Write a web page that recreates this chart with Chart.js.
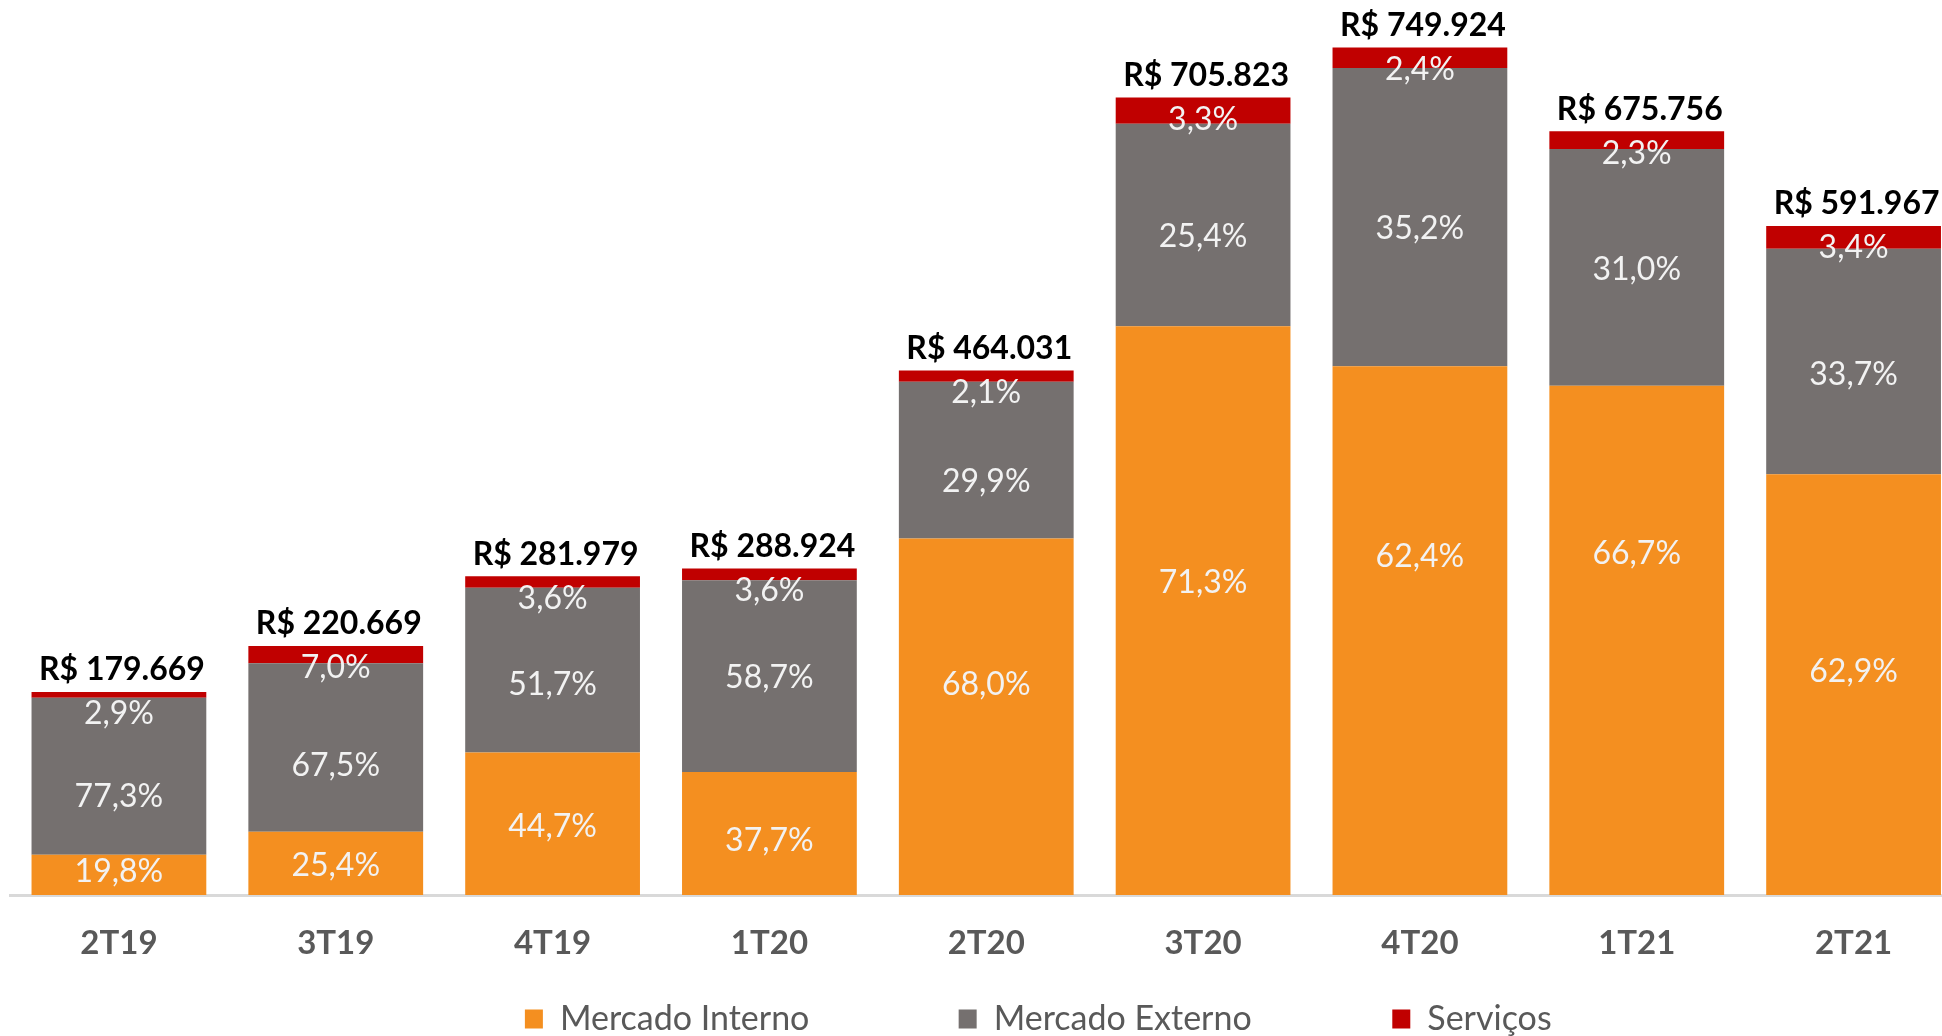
<!DOCTYPE html>
<html>
<head>
<meta charset="utf-8">
<script src="https://cdn.jsdelivr.net/npm/chart.js@4/dist/chart.umd.min.js"></script>
<style>
  html, body { margin: 0; padding: 0; background: #fff; overflow: hidden; }
  #wrap { position: relative; width: 1942px; height: 1036px; overflow: hidden; }
  #chart { position: absolute; left: 0; top: 0; }
</style>
</head>
<body>
<div id="wrap"><canvas id="chart" width="1962" height="1046"></canvas></div>
<script>
const categories = ['2T19', '3T19', '4T19', '1T20', '2T20', '3T20', '4T20', '1T21', '2T21'];
const totals = [179669, 220669, 281979, 288924, 464031, 705823, 749924, 675756, 591967];
const pctInterno = [19.8, 25.4, 44.7, 37.7, 68.0, 71.3, 62.4, 66.7, 62.9];
const pctExterno = [77.3, 67.5, 51.7, 58.7, 29.9, 25.4, 35.2, 31.0, 33.7];
const pctServicos = [2.9, 7.0, 3.6, 3.6, 2.1, 3.3, 2.4, 2.3, 3.4];

// where the % label sits inside each segment (0 = top, 1 = bottom), as in the original
const interLabelAt = [0.41, 0.53, 0.52, 0.56, 0.41, 0.45, 0.36, 0.33, 0.47];
const exterLabelAt = [0.63, 0.61, 0.59, 0.51, 0.64, 0.56, 0.54, 0.51, 0.56];

const colors = ['#F48F20', '#75706F', '#C00000'];

// trailing blanks after each legend entry, to space the entries out like Excel does
const legendGap = [16, 15, 46];

const part = pcts => totals.map((t, i) => t * pcts[i] / 100);

const fmtPct = v => v.toFixed(1).replace('.', ',') + '%';
const fmtTotal = v => 'R$ ' + String(v).replace(/\B(?=(\d{3})+(?!\d))/g, '.');

const labelsPlugin = {
  id: 'barLabels',
  afterDatasetsDraw(chart) {
    const ctx = chart.ctx;
    const pcts = [pctInterno, pctExterno, pctServicos];
    ctx.save();
    ctx.textAlign = 'center';
    ctx.textBaseline = 'middle';
    ctx.font = '32px Lato';
    ctx.fillStyle = '#F2F2F2';
    for (let d = 0; d < 3; d++) {
      const meta = chart.getDatasetMeta(d);
      meta.data.forEach((bar, i) => {
        const p = bar.getProps(['x', 'y', 'base'], true);
        let y;
        if (d === 0) y = p.y + interLabelAt[i] * (p.base - p.y);
        else if (d === 1) y = p.y + exterLabelAt[i] * (p.base - p.y);
        else y = p.y + 22;
        ctx.fillText(fmtPct(pcts[d][i]), p.x, y);
      });
    }
    // totals above each stack
    ctx.font = 'bold 32px Lato';
    ctx.fillStyle = '#000000';
    chart.getDatasetMeta(2).data.forEach((bar, i) => {
      const p = bar.getProps(['x', 'y'], true);
      ctx.fillText(fmtTotal(totals[i]), p.x + 3, p.y - 22);
    });
    ctx.restore();
  }
};

const chart = new Chart(document.getElementById('chart'), {
  type: 'bar',
  data: {
    labels: categories,
    datasets: [
      { label: 'Mercado Interno', data: part(pctInterno), backgroundColor: colors[0] },
      { label: 'Mercado Externo', data: part(pctExterno), backgroundColor: colors[1] },
      { label: 'Serviços', data: part(pctServicos), backgroundColor: colors[2] },
    ],
  },
  options: {
    responsive: false,
    animation: false,
    devicePixelRatio: 1,
    layout: { padding: { left: 10.5, right: 0, top: 0, bottom: 0 } },
    datasets: {
      bar: { barPercentage: 0.806, categoryPercentage: 1, borderWidth: 0 },
    },
    scales: {
      x: {
        stacked: true,
        grid: { display: false, drawTicks: false },
        border: { display: true, color: '#D9D9D9', width: 3 },
        ticks: {
          padding: 28.7,
          color: '#595959',
          font: { family: 'Lato', size: 33, weight: 'bold' },
        },
      },
      y: {
        stacked: true,
        display: false,
        min: 0,
        max: 792000,
      },
    },
    plugins: {
      tooltip: { enabled: false },
      legend: {
        position: 'bottom',
        align: 'end',
        labels: {
          color: '#595959',
          font: { family: 'Lato', size: 34 },
          boxWidth: 18,
          boxHeight: 19,
          padding: 10,
          generateLabels(c) {
            const items = Chart.defaults.plugins.legend.labels.generateLabels(c);
            items.forEach((it, i) => { it.text = it.text + ' '.repeat(legendGap[i]); });
            return items;
          },
        },
      },
    },
  },
  plugins: [labelsPlugin],
});
</script>
</body>
</html>
